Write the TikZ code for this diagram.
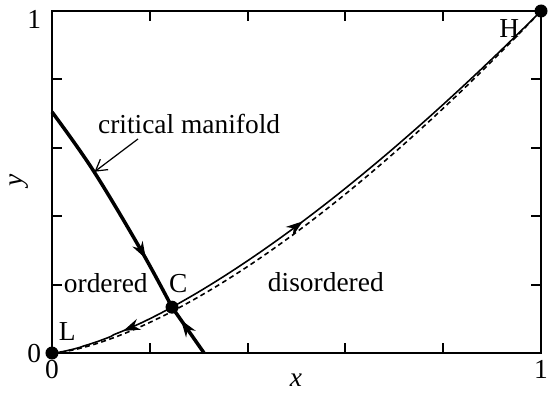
\documentclass[tikz,border=0pt]{standalone}
\usepackage{fontspec}
\setmainfont{Liberation Serif}
\usetikzlibrary{arrows.meta,positioning,decorations.markings}
\tikzset{
  fixpt/.style={circle, fill=black, inner sep=0pt, minimum size=0.26cm},
  lbl/.style={font=\fontsize{15.6}{18}\selectfont, inner sep=1pt},
  midarrow/.style={postaction={decorate}, decoration={markings,
      mark=at position #1 with {\arrow{Stealth[length=3.4mm,width=2.3mm]}}}},
}

\begin{document}
\begin{tikzpicture}[x=9.78cm, y=6.84cm]
  \useasboundingbox (-0.1063,-0.1257) rectangle (1.0286,1.0322);
  % frame and ticks
  \draw[line width=1.1pt] (0,0) rectangle (1,1);
  \foreach \t in {0.2,0.4,0.6,0.8} {
    \draw[line width=1.1pt] (\t,0) -- ++(0pt,5.7pt);
    \draw[line width=1.1pt] (\t,1) -- ++(0pt,-5.7pt);
    \draw[line width=1.1pt] (0,\t) -- ++(5.7pt,0pt);
    \draw[line width=1.1pt] (1,\t) -- ++(-5.7pt,0pt);
  }
  % axis labels
  \node[lbl, left=5pt] (y1) at (0,0.975) {1};
  \node[lbl, left=5pt] (y0) at (0,0) {0};
  \node[lbl, below=3pt] (x0) at (0,0) {0};
  \node[lbl, below=3pt] (x1) at (1,0) {1};
  \node[lbl] (xlab) at (0.499,-0.079) {\itshape x};
  \node[lbl, rotate=90] (ylab) at (-0.068,0.506) {\itshape y};
  % fixed points
  \coordinate (Lpt) at (0,0);
  \coordinate (Cpt) at (0.2455,0.134);
  \coordinate (Hpt) at (1,1);
  % dashed path
  \draw[line width=0.9pt, dash pattern=on 2.8pt off 2pt, domain=0:1, samples=60]
    plot (\x,{\x*sqrt(\x)});
  % flow from C to H and from C to L
  \draw[line width=0.9pt, midarrow=0.33, domain=0.2455:1, samples=50]
    plot (\x,{pow(\x,1.43)});
  \draw[line width=0.9pt, midarrow=0.42, domain=0.2455:0.002, samples=40]
    plot (\x,{pow(\x,1.43)}) -- (Lpt);
  % critical manifold
  \draw[line width=2pt, midarrow=0.76] plot[smooth, tension=0.6] coordinates
    {(0,0.705) (0.0838,0.535) (0.182,0.301) (0.2455,0.134)};
  \coordinate (Bpt) at (0.311,0);
  \draw[line width=2pt, midarrow=0.72] (Bpt) -- (Cpt);
  \node[fixpt] (L) at (Lpt) {};
  \node[fixpt] (C) at (Cpt) {};
  \node[fixpt] (H) at (Hpt) {};
  % labels
  \node[lbl] (Llab) at (0.031,0.064) {L};
  \node[lbl] (Clab) at (0.258,0.202) {C};
  \node[lbl] (Hlab) at (0.935,0.950) {H};
  \node[lbl] (ord) at (0.110,0.205) {ordered};
  \node[lbl] (dis) at (0.560,0.208) {disordered};
  \node[lbl, anchor=west] (crit) at (0.090,0.670) {critical manifold};
  \coordinate (critend) at (0.087,0.530);
  \draw[line width=0.7pt, -{Straight Barb[length=2.2mm,width=2.6mm]}]
    (0.176,0.626) -- (critend);
\end{tikzpicture}
\end{document}
